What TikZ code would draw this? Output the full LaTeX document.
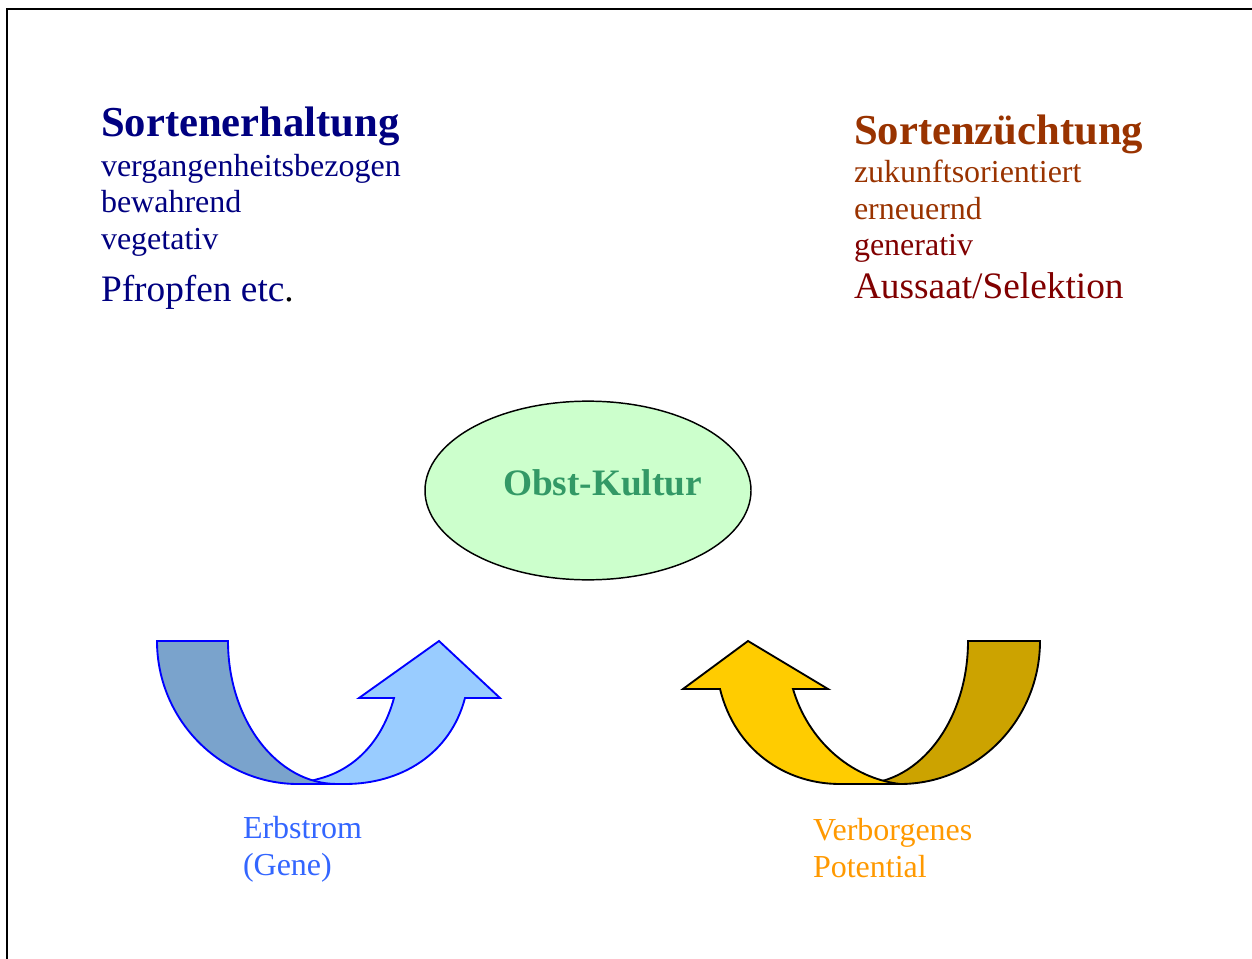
\documentclass[tikz,border=0pt]{standalone}
\usepackage{fontspec}
\setmainfont{Liberation Serif}
\usetikzlibrary{shapes.geometric}
\definecolor{navy}{HTML}{000080}
\definecolor{brownish}{HTML}{993300}
\definecolor{maroon}{HTML}{800000}
\definecolor{obstgreen}{HTML}{339966}
\definecolor{ellfill}{HTML}{CCFFCC}
\definecolor{erbblue}{HTML}{3366FF}
\definecolor{verborange}{HTML}{FF9900}
\definecolor{bluelight}{HTML}{99CCFF}
\definecolor{bluedark}{HTML}{7AA3CC}
\definecolor{yellight}{HTML}{FFCC00}
\definecolor{yeldark}{HTML}{CCA300}
\tikzset{
  lbl/.style={anchor=base west, inner sep=0pt, outer sep=0pt},
  big/.style={font=\fontsize{32}{38}\selectfont\bfseries},
  mid/.style={font=\fontsize{28}{34}\selectfont},
  body/.style={font=\fontsize{24}{29}\selectfont},
  bluearrow/.style={draw=blue, line width=1.4pt, line join=miter},
  yelarrow/.style={draw=black, line width=1.4pt, line join=miter},
}
\begin{document}
\begin{tikzpicture}[x=0.75pt, y=-0.75pt]
\useasboundingbox (0,0) rectangle (1252,959);
% frame
\draw[line width=1.5pt] (1252,9.5) -- (7,9.5) -- (7,959);

% left text block
\node[lbl, big, text=navy] (t1) at (101,136.5) {Sortenerhaltung};
\node[lbl, body, text=navy] (t2) at (101,176.5) {vergangenheitsbezogen};
\node[lbl, body, text=navy] (t3) at (101,212.5) {bewahrend};
\node[lbl, body, text=navy] (t4) at (101,249) {vegetativ};
\node[lbl, mid, text=navy] (t5) at (101,301) {Pfropfen etc\textcolor{black}{.}};

% right text block
\node[lbl, big, text=brownish] (r1) at (854,144.5) {Sortenzüchtung};
\node[lbl, body, text=brownish] (r2) at (854,183) {zukunftsorientiert};
\node[lbl, body, text=brownish] (r3) at (854,220) {erneuernd};
\node[lbl, body, text=maroon] (r4) at (854,256) {generativ};
\node[lbl, mid, text=maroon] (r5) at (854,298) {Aussaat/Selektion};

% central ellipse
\node[ellipse, draw=black, line width=1.1pt, fill=ellfill, minimum width=244.5pt, minimum height=134pt, inner sep=0pt] (ell) at (588,490.5) {};
\node[lbl, font=\fontsize{28}{34}\selectfont\bfseries, text=obstgreen] (obst) at (503,495) {Obst-Kultur};

% blue curved arrow: light front part first, dark back part on top
\path[bluearrow, fill=bluelight]
  (394,698) .. controls (382,742) and (354,770) .. (318,779)
  -- (300,784) -- (345,784)
  .. controls (400,784) and (450,755) .. (465,698)
  -- (500,698) -- (439,641) -- (359,698) -- cycle;
\path[bluearrow, fill=bluedark]
  (157,641) .. controls (157,720) and (221,784) .. (298,784)
  -- (337,784) .. controls (277,784) and (228,720) .. (228,641) -- cycle;

% yellow curved arrow: dark back part first, light front part on top
\path[yelarrow, fill=yeldark]
  (1040,641) .. controls (1040,720) and (977,784) .. (900,784)
  -- (860,784) .. controls (920,784) and (968,720) .. (968,641) -- cycle;
\path[yelarrow, fill=yellight]
  (793,689) .. controls (808,740) and (850,778) .. (900,784)
  -- (840,784)
  .. controls (785,784) and (735,750) .. (720,689)
  -- (683,689) -- (748,641) -- (828,689) -- cycle;

% labels under arrows
\node[lbl, body, text=erbblue] (e1) at (243,838.5) {Erbstrom};
\node[lbl, body, text=erbblue] (e2) at (243,875) {(Gene)};
\node[lbl, body, text=verborange] (v1) at (813,840) {Verborgenes};
\node[lbl, body, text=verborange] (v2) at (813,877) {Potential};
\end{tikzpicture}
\end{document}
